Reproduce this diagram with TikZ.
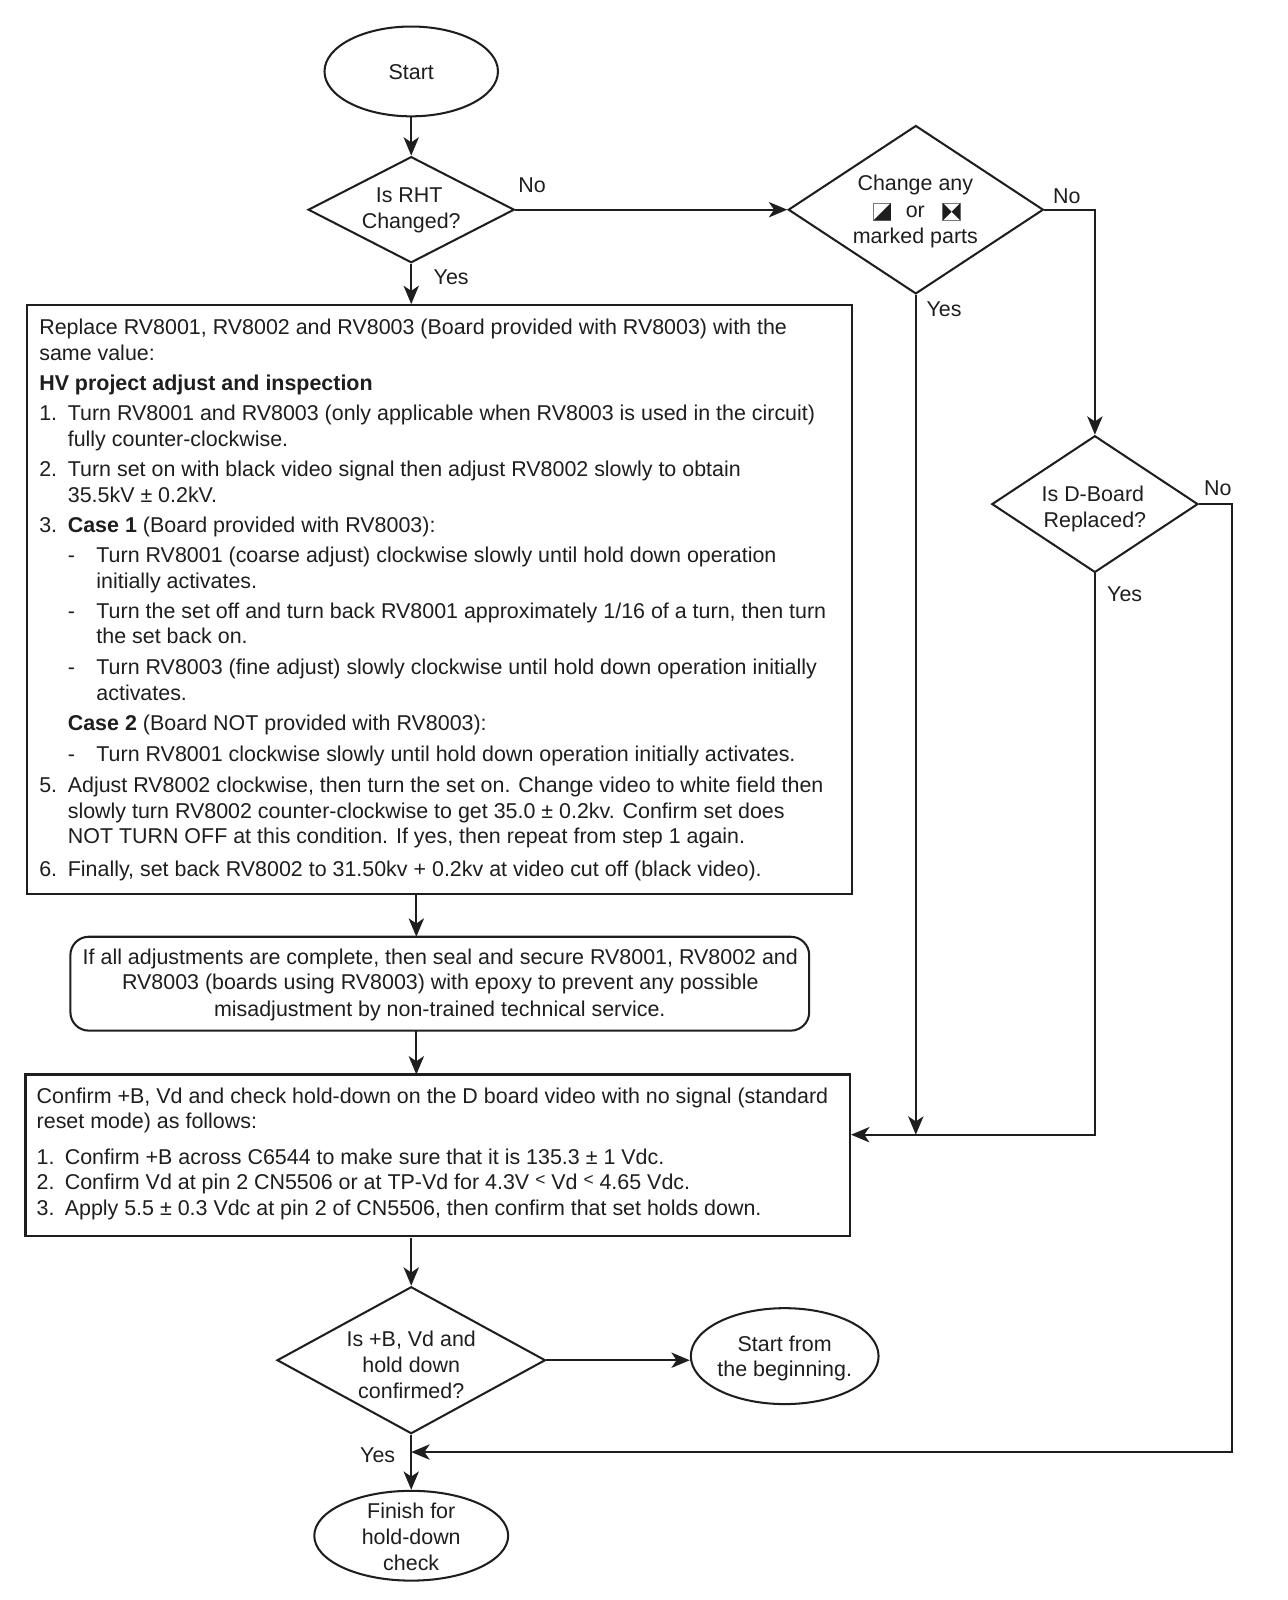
\documentclass[tikz,border=0pt]{standalone}
\usepackage{fontspec}
\setmainfont{Liberation Sans}
\usetikzlibrary{arrows.meta,shapes.geometric,calc}
\definecolor{ink}{HTML}{1E1E1E}
\tikzset{
 x=1pt,y=-1pt,
 every path/.style={line width=2pt},
 tl/.style={inner sep=0pt,anchor=base west,text=ink,font=\fontsize{21}{25}\selectfont},
 tc/.style={tl,anchor=base},
 boxn/.style={draw=ink,rectangle,inner sep=0pt},
 rbox/.style={draw=ink,rectangle,rounded corners=18pt,inner sep=0pt},
 ell/.style={draw=ink,ellipse,inner sep=0pt},
 dia/.style={draw=ink,diamond,inner sep=0pt,aspect=1},
 arr/.style={draw=ink,-{Stealth[length=18pt,width=15pt,inset=5pt]}},
 lbl/.style={tl}
}
\newcommand{\sm}[1]{\raisebox{4pt}{\fontsize{17}{17}\selectfont #1}}
\begin{document}
\begin{tikzpicture}
\useasboundingbox (0,0) rectangle (1262,1568);
\fill[white] (0,0) rectangle (1262,1568);
% shapes
\node[ell,minimum width=170pt,minimum height=88pt] (start) at (403,70) {};
\node[dia,minimum width=202pt,minimum height=104pt] (rht) at (403,205.5) {};
\node[dia,minimum width=250pt,minimum height=165pt] (chg) at (897.5,205.5) {};
\node[dia,minimum width=202pt,minimum height=134pt] (dbd) at (1073,494) {};
\node[boxn,minimum width=809pt,minimum height=577pt] (adj) at (430.5,587.5) {};
\node[rbox,minimum width=724pt,minimum height=92pt] (seal) at (431,964) {};
\node[boxn,minimum width=808pt,minimum height=158pt] (conf) at (429,1132) {};
\node[dia,minimum width=263pt,minimum height=144pt] (chk) at (403,1333) {};
\node[ell,minimum width=184pt,minimum height=94pt] (again) at (769,1329) {};
\node[ell,minimum width=190pt,minimum height=88pt] (fin) at (403,1505) {};
% connector helpers
\coordinate (join) at ($(conf.north east)+(0,60)$);
\coordinate (c1) at (1073,205.5);
\coordinate (c2) at (1207,494);
\coordinate (c3) at (1207,1423);
\coordinate (m) at (403,1423);
\coordinate (a1) at (408,876);
\coordinate (a2) at (408,918);
\coordinate (a3) at (408,1010);
\coordinate (a4) at (408,1053);
\coordinate (a5) at (403,1213);
% connectors
\draw[arr] (start.south) -- (rht.north);
\draw[arr] (rht.east) -- (chg.west);
\draw[arr] (rht.south) -- (adj.north -| rht.south);
\draw[arr] (a1) -- (a2);
\draw[arr] (a3) -- (a4);
\draw[arr] (a5) -- (chk.north);
\draw[arr] (chk.east) -- (chk.east -| again.west);
\draw[arr] (chk.south) -- (fin.north);
\draw[arr] (chg.east) -- (c1) -- (dbd.north);
\draw[arr] (chg.south) -- (chg.south |- join);
\draw[arr] (dbd.south) -- (dbd.south |- join) -- (join);
\draw[arr] (dbd.east) -- (c2) -- (c3) -- (m);
% shape labels
\node[tc] (tstart) at (403,78) {Start};
\node[tc] (r1) at (401,198) {Is RHT};
\node[tc] (r2) at (403,224) {Changed?};
\node[tc] (c1t) at (897,187) {Change any};
\node[tc] (c2t) at (897,213) {or};
\node[tc] (c3t) at (897,238.5) {marked parts};
\node[tc] (d1) at (1071,491) {Is D-Board};
\node[tc] (d2) at (1073,517) {Replaced?};
\node[tc] (k1) at (403,1320) {Is +B, Vd and};
\node[tc] (k2) at (403,1345) {hold down};
\node[tc] (k3) at (403,1371) {confirmed?};
\node[tc] (g1) at (769,1324) {Start from};
\node[tc] (g2) at (769,1349) {the beginning.};
\node[tc] (f1) at (403,1488) {Finish for};
\node[tc] (f2) at (403,1514) {hold-down};
\node[tc] (f3) at (403,1539) {check};
% branch labels
\node[lbl] (l1) at (507,189) {No};
\node[lbl] (l2) at (424,279) {Yes};
\node[lbl] (l3) at (1031,199) {No};
\node[lbl] (l4) at (907,310) {Yes};
\node[lbl] (l5) at (1179,486) {No};
\node[lbl] (l6) at (1084,589) {Yes};
\node[lbl] (l7) at (352,1433) {Yes};
% symbols
\draw[ink!60,line width=1pt,fill=white] (856,199) rectangle (873,216);
\fill[ink] (873,199) -- (873,216) -- (856,216) -- cycle;
\draw[ink!60,line width=1pt,fill=white] (924,199) rectangle (941,216);
\fill[ink] (924,199) -- (932.5,207.5) -- (924,216) -- cycle;
\fill[ink] (941,199) -- (932.5,207.5) -- (941,216) -- cycle;
% adjust box
\node[tl] (a01) at (37.5,328) {Replace RV8001, RV8002 and RV8003 (Board provided with RV8003) with the};
\node[tl] (a02) at (37.5,353) {same value:};
\node[tl] (a03) at (37.5,383) {\bfseries HV project adjust and inspection};
\node[tl] (a04) at (37.5,412) {1.};
\node[tl] (a05) at (65.5,412) {Turn RV8001 and RV8003 (only applicable when RV8003 is used in the circuit)};
\node[tl] (a06) at (65.5,438) {fully counter-clockwise.};
\node[tl] (a07) at (37.5,467) {2.};
\node[tl] (a08) at (65.5,467) {Turn set on with black video signal then adjust RV8002 slowly to obtain};
\node[tl] (a09) at (65.5,492) {35.5kV ± 0.2kV.};
\node[tl] (a10) at (37.5,522) {3.};
\node[tl] (a11) at (65.5,522) {\textbf{Case 1} (Board provided with RV8003):};
\node[tl] (a12) at (65.5,551) {-};
\node[tl] (a13) at (93.5,551) {Turn RV8001 (coarse adjust) clockwise slowly until hold down operation};
\node[tl] (a14) at (93.5,577) {initially activates.};
\node[tl] (a15) at (65.5,606) {-};
\node[tl] (a16) at (93.5,606) {Turn the set off and turn back RV8001 approximately 1/16 of a turn, then turn};
\node[tl] (a17) at (93.5,631) {the set back on.};
\node[tl] (a18) at (65.5,661) {-};
\node[tl] (a19) at (93.5,661) {Turn RV8003 (fine adjust) slowly clockwise until hold down operation initially};
\node[tl] (a20) at (93.5,686) {activates.};
\node[tl] (a21) at (65.5,716) {\textbf{Case 2} (Board NOT provided with RV8003):};
\node[tl] (a22) at (65.5,746) {-};
\node[tl] (a23) at (93.5,746) {Turn RV8001 clockwise slowly until hold down operation initially activates.};
\node[tl] (a24) at (37.5,777) {5.};
\node[tl] (a25) at (65.5,777) {Adjust RV8002 clockwise, then turn the set on.  Change video to white field then};
\node[tl] (a26) at (65.5,802) {slowly turn RV8002 counter-clockwise to get 35.0 ± 0.2kv. Confirm set does};
\node[tl] (a27) at (65.5,827) {NOT TURN OFF at this condition. If yes, then repeat from step 1 again.};
\node[tl] (a28) at (37.5,859) {6.};
\node[tl] (a29) at (65.5,859) {Finally, set back RV8002 to 31.50kv + 0.2kv at video cut off (black video).};
% seal
\node[tc] (s1) at (431.5,945) {If all adjustments are complete, then seal and secure RV8001, RV8002 and};
\node[tc] (s2) at (431.5,970) {RV8003 (boards using RV8003) with epoxy to prevent any possible};
\node[tc] (s3) at (431,996) {misadjustment by non-trained technical service.};
% confirm
\node[tl] (b1) at (35,1081) {Confirm +B, Vd and check hold-down on the D board video with no signal (standard};
\node[tl] (b2) at (35,1106) {reset mode) as follows:};
\node[tl] (b3) at (35,1141) {1.};
\node[tl] (b4) at (62.5,1141) {Confirm +B across C6544 to make sure that it is 135.3 ± 1 Vdc.};
\node[tl] (b5) at (35,1166) {2.};
\node[tl] (b6) at (62.5,1166) {Confirm Vd at pin 2 CN5506 or at TP-Vd for 4.3V \sm{<} Vd \sm{<} 4.65 Vdc.};
\node[tl] (b7) at (35,1191) {3.};
\node[tl] (b8) at (62.5,1191) {Apply 5.5 ± 0.3 Vdc at pin 2 of CN5506, then confirm that set holds down.};
\end{tikzpicture}
\end{document}
